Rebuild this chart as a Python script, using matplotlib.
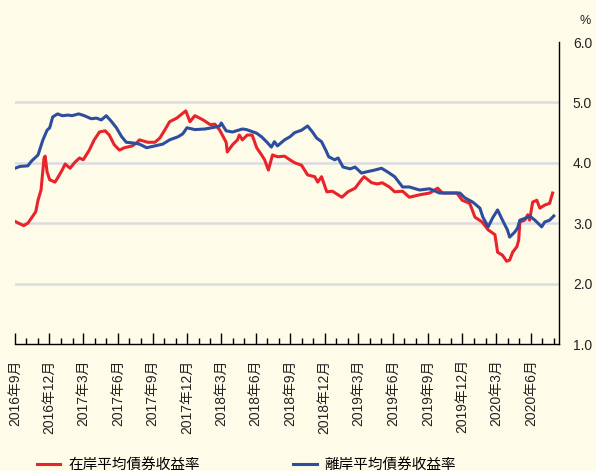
import pandas as pd
import matplotlib
matplotlib.use("Agg")
import matplotlib.pyplot as plt
import matplotlib.dates as mdates
from matplotlib.ticker import FuncFormatter, FixedLocator

# 離岸平均債券收益率 (offshore)
off_dates = ["2016-09-01", "2016-09-14", "2016-10-05", "2016-10-15", "2016-11-01", "2016-11-14",
             "2016-11-25", "2016-12-02", "2016-12-10", "2016-12-23", "2017-01-04", "2017-01-20",
             "2017-01-30", "2017-02-17", "2017-03-04", "2017-03-22", "2017-04-05", "2017-04-18",
             "2017-05-01", "2017-05-14", "2017-05-28", "2017-06-10", "2017-06-23", "2017-07-09",
             "2017-07-28", "2017-08-16", "2017-09-07", "2017-09-28", "2017-10-16", "2017-11-07",
             "2017-11-20", "2017-12-01", "2017-12-22", "2018-01-18", "2018-02-13", "2018-02-26",
             "2018-03-02", "2018-03-15", "2018-04-01", "2018-04-27", "2018-05-08", "2018-06-04",
             "2018-06-17", "2018-06-30", "2018-07-13", "2018-07-21", "2018-07-29", "2018-08-17",
             "2018-08-31", "2018-09-13", "2018-10-01", "2018-10-17", "2018-10-30", "2018-11-10",
             "2018-11-23", "2018-12-05", "2018-12-12", "2018-12-28", "2019-01-06", "2019-01-19",
             "2019-02-07", "2019-02-20", "2019-03-09", "2019-03-22", "2019-04-13", "2019-05-01",
             "2019-05-17", "2019-06-05", "2019-06-26", "2019-07-14", "2019-08-10", "2019-09-06",
             "2019-10-02", "2019-11-25", "2019-12-08", "2019-12-29", "2020-01-17", "2020-01-25",
             "2020-02-08", "2020-02-20", "2020-03-04", "2020-03-17", "2020-03-30", "2020-04-05",
             "2020-04-18", "2020-04-26", "2020-05-02", "2020-05-20", "2020-05-28", "2020-06-11",
             "2020-06-29", "2020-07-07", "2020-07-20", "2020-07-31"]
off_vals = [3.91, 3.94, 3.95, 4.03, 4.13, 4.38,
            4.54, 4.58, 4.76, 4.81, 4.78, 4.79,
            4.78, 4.81, 4.78, 4.73, 4.74, 4.71,
            4.78, 4.69, 4.58, 4.44, 4.34, 4.33,
            4.31, 4.25, 4.28, 4.31, 4.38, 4.43,
            4.48, 4.58, 4.55, 4.56, 4.59, 4.61,
            4.66, 4.53, 4.51, 4.56, 4.55, 4.49,
            4.43, 4.35, 4.26, 4.35, 4.28, 4.38,
            4.43, 4.50, 4.54, 4.61, 4.51, 4.41,
            4.35, 4.20, 4.10, 4.05, 4.08, 3.93,
            3.90, 3.93, 3.83, 3.85, 3.88, 3.91,
            3.85, 3.77, 3.60, 3.60, 3.55, 3.57,
            3.50, 3.50, 3.42, 3.35, 3.25, 3.10,
            2.94, 3.09, 3.22, 3.05, 2.89, 2.77,
            2.85, 2.92, 3.05, 3.09, 3.12, 3.05,
            2.94, 3.02, 3.05, 3.12]

# 在岸平均債券收益率 (onshore)
on_dates = ["2016-09-01", "2016-09-14", "2016-09-24", "2016-10-05", "2016-10-15", "2016-10-26",
            "2016-11-01", "2016-11-09", "2016-11-17", "2016-11-20", "2016-11-25", "2016-12-02",
            "2016-12-16", "2016-12-23", "2017-01-04", "2017-01-12", "2017-01-25", "2017-02-07",
            "2017-02-19", "2017-03-01", "2017-03-17", "2017-03-30", "2017-04-13", "2017-04-28",
            "2017-05-09", "2017-05-22", "2017-06-05", "2017-06-18", "2017-07-09", "2017-07-22",
            "2017-07-28", "2017-08-19", "2017-09-07", "2017-09-20", "2017-10-03", "2017-10-16",
            "2017-11-04", "2017-11-20", "2017-11-28", "2017-12-09", "2017-12-22", "2018-01-13",
            "2018-02-01", "2018-02-13", "2018-02-26", "2018-03-15", "2018-03-18", "2018-04-01",
            "2018-04-14", "2018-04-19", "2018-04-27", "2018-05-10", "2018-05-23", "2018-06-04",
            "2018-06-17", "2018-06-25", "2018-07-05", "2018-07-16", "2018-07-29", "2018-08-17",
            "2018-08-31", "2018-09-13", "2018-10-01", "2018-10-17", "2018-11-05", "2018-11-13",
            "2018-11-23", "2018-12-07", "2018-12-22", "2019-01-16", "2019-02-01", "2019-02-20",
            "2019-03-09", "2019-03-16", "2019-04-05", "2019-04-20", "2019-05-03", "2019-05-22",
            "2019-06-05", "2019-06-26", "2019-07-14", "2019-08-10", "2019-09-06", "2019-09-27",
            "2019-10-10", "2019-11-17", "2019-12-01", "2019-12-21", "2020-01-04", "2020-01-23",
            "2020-02-08", "2020-02-26", "2020-03-04", "2020-03-17", "2020-03-28", "2020-04-05",
            "2020-04-13", "2020-04-24", "2020-04-29", "2020-05-02", "2020-05-15", "2020-05-23",
            "2020-05-28", "2020-06-05", "2020-06-16", "2020-06-24", "2020-07-07", "2020-07-20",
            "2020-07-28"]
on_vals = [3.03, 2.99, 2.96, 3.00, 3.09, 3.19,
           3.38, 3.55, 4.08, 4.11, 3.85, 3.72,
           3.68, 3.75, 3.88, 3.98, 3.91, 4.01,
           4.08, 4.05, 4.21, 4.38, 4.51, 4.53,
           4.46, 4.30, 4.21, 4.25, 4.28, 4.34,
           4.38, 4.34, 4.34, 4.41, 4.54, 4.68,
           4.74, 4.82, 4.86, 4.68, 4.78, 4.71,
           4.63, 4.64, 4.54, 4.34, 4.18, 4.30,
           4.38, 4.46, 4.38, 4.46, 4.46, 4.25,
           4.13, 4.05, 3.88, 4.13, 4.10, 4.11,
           4.05, 4.00, 3.96, 3.80, 3.77, 3.68,
           3.77, 3.52, 3.53, 3.43, 3.52, 3.58,
           3.72, 3.77, 3.67, 3.65, 3.67, 3.60,
           3.52, 3.53, 3.43, 3.47, 3.50, 3.58,
           3.50, 3.50, 3.38, 3.33, 3.10, 3.02,
           2.89, 2.81, 2.52, 2.47, 2.37, 2.39,
           2.52, 2.61, 2.72, 3.02, 3.05, 3.14,
           3.05, 3.35, 3.38, 3.25, 3.30, 3.33,
           3.50]

labels = ["在岸平均債券收益率", "離岸平均債券收益率"]
y_ticks = [1.0, 2.0, 3.0, 4.0, 5.0, 6.0]

RED = "#E8232A"
BLUE = "#2D4E9F"
BG = "#FEFBE9"
FONT = ["Liberation Sans", "Noto Sans CJK JP"]
plt.rcParams["font.family"] = FONT

fig = plt.figure(figsize=(5.96, 4.71), dpi=100, facecolor=BG)
ax = fig.add_axes([0.0252, 0.2696, 0.9128, 0.6412], facecolor=BG)

for y in y_ticks[1:-1]:
    ax.axhline(y, color="#D9DCE0", lw=1.8, zorder=1)

ax.plot(pd.to_datetime(on_dates), on_vals, color=RED, lw=2.2, label=labels[0], zorder=3)
ax.plot(pd.to_datetime(off_dates), off_vals, color=BLUE, lw=2.2, label=labels[1], zorder=3)

ax.set_ylim(1.0, 6.0)
ax.set_xlim(pd.Timestamp("2016-09-01"), pd.Timestamp("2020-08-14"))

ax.spines["left"].set_visible(False)
ax.spines["top"].set_visible(False)
ax.spines["right"].set_linewidth(1.0)
ax.spines["bottom"].set_linewidth(1.0)

ax.yaxis.tick_right()
ax.yaxis.set_major_locator(FixedLocator(y_ticks))
ax.yaxis.set_major_formatter(FuncFormatter(lambda v, p: f"{v:.1f}"))
ax.tick_params(axis="y", length=0, pad=10, labelsize=10, labelcolor="#222222")

ax.xaxis.set_major_locator(mdates.MonthLocator(bymonth=[3, 6, 9, 12]))
ax.xaxis.set_minor_locator(mdates.MonthLocator())
ax.xaxis.set_major_formatter(FuncFormatter(
    lambda v, p: f"{mdates.num2date(v).year}年{mdates.num2date(v).month}月"))
ax.tick_params(axis="x", which="major", direction="in", length=8, width=1,
               pad=11, labelsize=10, labelrotation=90, labelcolor="#222222")
ax.tick_params(axis="x", which="minor", direction="in", length=4, width=1)

fig.text(0.981, 0.955, "%", ha="center", va="center", fontsize=9, color="#222222")

fig.legend(loc="center left", bbox_to_anchor=(0.062, 0.012), ncol=2, frameon=False,
           fontsize=10.5, handlelength=1.6, handletextpad=0.55, columnspacing=6.4,
           borderpad=0, borderaxespad=0)

fig.savefig("out.png", dpi=100, facecolor=BG)
